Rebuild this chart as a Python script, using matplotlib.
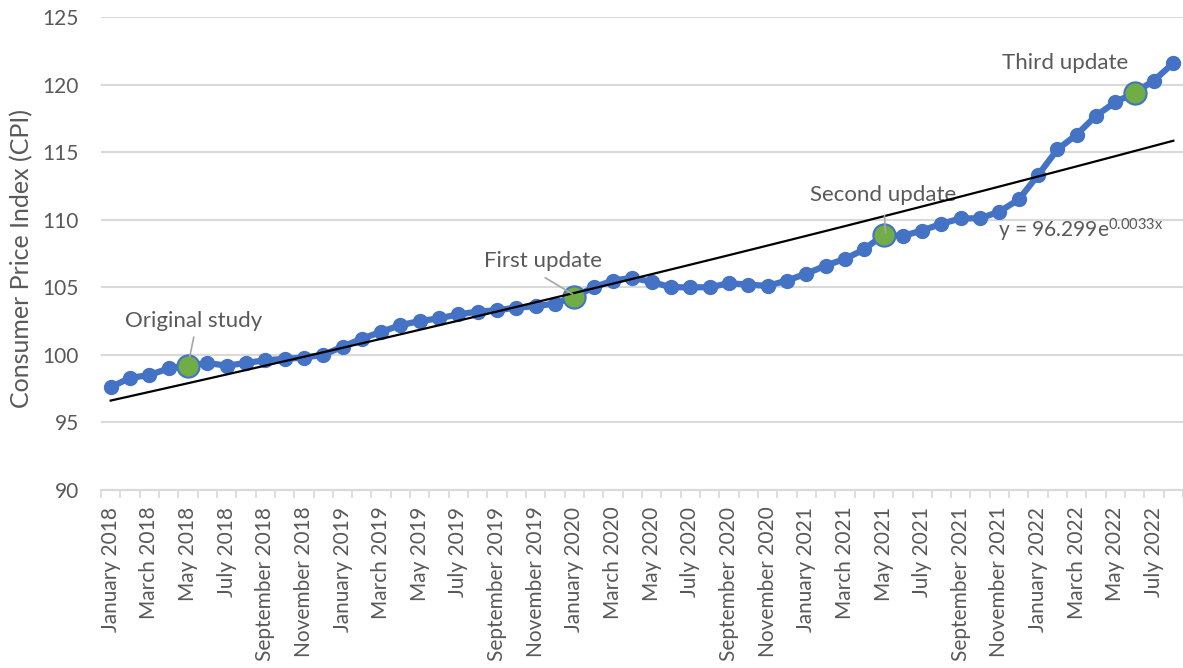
import pandas as pd
import matplotlib.pyplot as plt
import numpy as np

# Monthly CPI, January 2018 .. August 2022
cpi = [97.6, 98.3, 98.5, 99.0, 99.2, 99.4, 99.2, 99.4, 99.6, 99.7, 99.8, 100.0,
       100.6, 101.2, 101.7, 102.2, 102.5, 102.7, 103.0, 103.2, 103.3, 103.5, 103.6, 103.8,
       104.3, 105.0, 105.5, 105.7, 105.4, 105.0, 105.0, 105.0, 105.3, 105.2, 105.1, 105.5,
       106.0, 106.6, 107.1, 107.8, 108.9, 108.8, 109.2, 109.7, 110.1, 110.1,
       110.6, 111.5, 113.3, 115.2, 116.3, 117.7, 118.7, 119.4, 120.3, 121.6]
months = pd.date_range('2018-01-01', periods=len(cpi), freq='MS').strftime('%B %Y').tolist()

# highlighted study points
study_idx = [4, 24, 40, 53]
study_names = ['Original study', 'First update', 'Second update', 'Third update']

# exponential trendline shown on the chart
trend_a = 96.299
trend_b = 0.0033

plt.rcParams['font.family'] = ['Lato', 'DejaVu Sans']
plt.rcParams['mathtext.fontset'] = 'custom'
plt.rcParams['mathtext.rm'] = 'Lato'
txt_col = '#595959'

fig = plt.figure(figsize=(11.83, 6.68), dpi=100)
ax = fig.add_axes([101 / 1183, 178 / 668, 1082 / 1183, 473 / 668])

x = np.arange(len(cpi))
y = np.array(cpi)

ax.plot(x, y, color='#4472C4', lw=4.5, marker='o', ms=10, zorder=3)
ax.plot(x[study_idx], y[study_idx], ls='none', marker='o', ms=16,
        mfc='#70AD47', mec='#4472C4', mew=1.5, zorder=4)

ax.plot(x, trend_a * np.exp(trend_b * (x + 1)), color='black', lw=1.6, zorder=5)

ax.set_xlim(-0.5, len(cpi) - 0.5)
ax.set_ylim(90, 125)
ax.set_yticks(np.arange(90, 126, 5))
ax.set_xticks(x[::2])
ax.set_xticklabels(months[::2], rotation=90)
ax.set_xticks(np.arange(-0.5, len(cpi), 1), minor=True)
ax.tick_params(axis='x', which='major', length=0, pad=12, labelsize=15, labelcolor=txt_col)
ax.tick_params(axis='x', which='minor', length=6, color='#d9d9d9', width=1.2)
ax.tick_params(axis='y', length=0, pad=16, labelsize=15, labelcolor=txt_col)

ax.yaxis.grid(True, color='#d9d9d9', lw=1.5)
ax.set_axisbelow(True)
for side in ['top', 'right', 'left']:
    ax.spines[side].set_visible(False)
ax.spines['bottom'].set_color('#d9d9d9')
ax.spines['bottom'].set_linewidth(1.5)

ax.set_ylabel('Consumer Price Index (CPI)', fontsize=18, color=txt_col)
ax.yaxis.set_label_coords(-0.063, 0.49)

# labels with leader lines
lbl_pos = [(4.3, 102.5), (22.4, 106.95), (40.0, 111.85), (49.4, 121.6)]
leaders = [((4.3, 101.3), (4.1, 99.9)), ((22.5, 105.7), (23.9, 104.5)),
           ((40.05, 110.3), (40.1, 109.0)), None]
for name, pos, ld in zip(study_names, lbl_pos, leaders):
    ax.text(pos[0], pos[1], name, ha='center', va='center', fontsize=16, color=txt_col)
    if ld is not None:
        ax.plot([ld[0][0], ld[1][0]], [ld[0][1], ld[1][1]], color='#a6a6a6', lw=1.2, zorder=6)

ax.text(45.9, 109.2, r'y = 96.299e$\mathregular{^{0.0033x}}$', ha='left', va='center',
        fontsize=15, color=txt_col)

fig.savefig('out.png', dpi=100)
